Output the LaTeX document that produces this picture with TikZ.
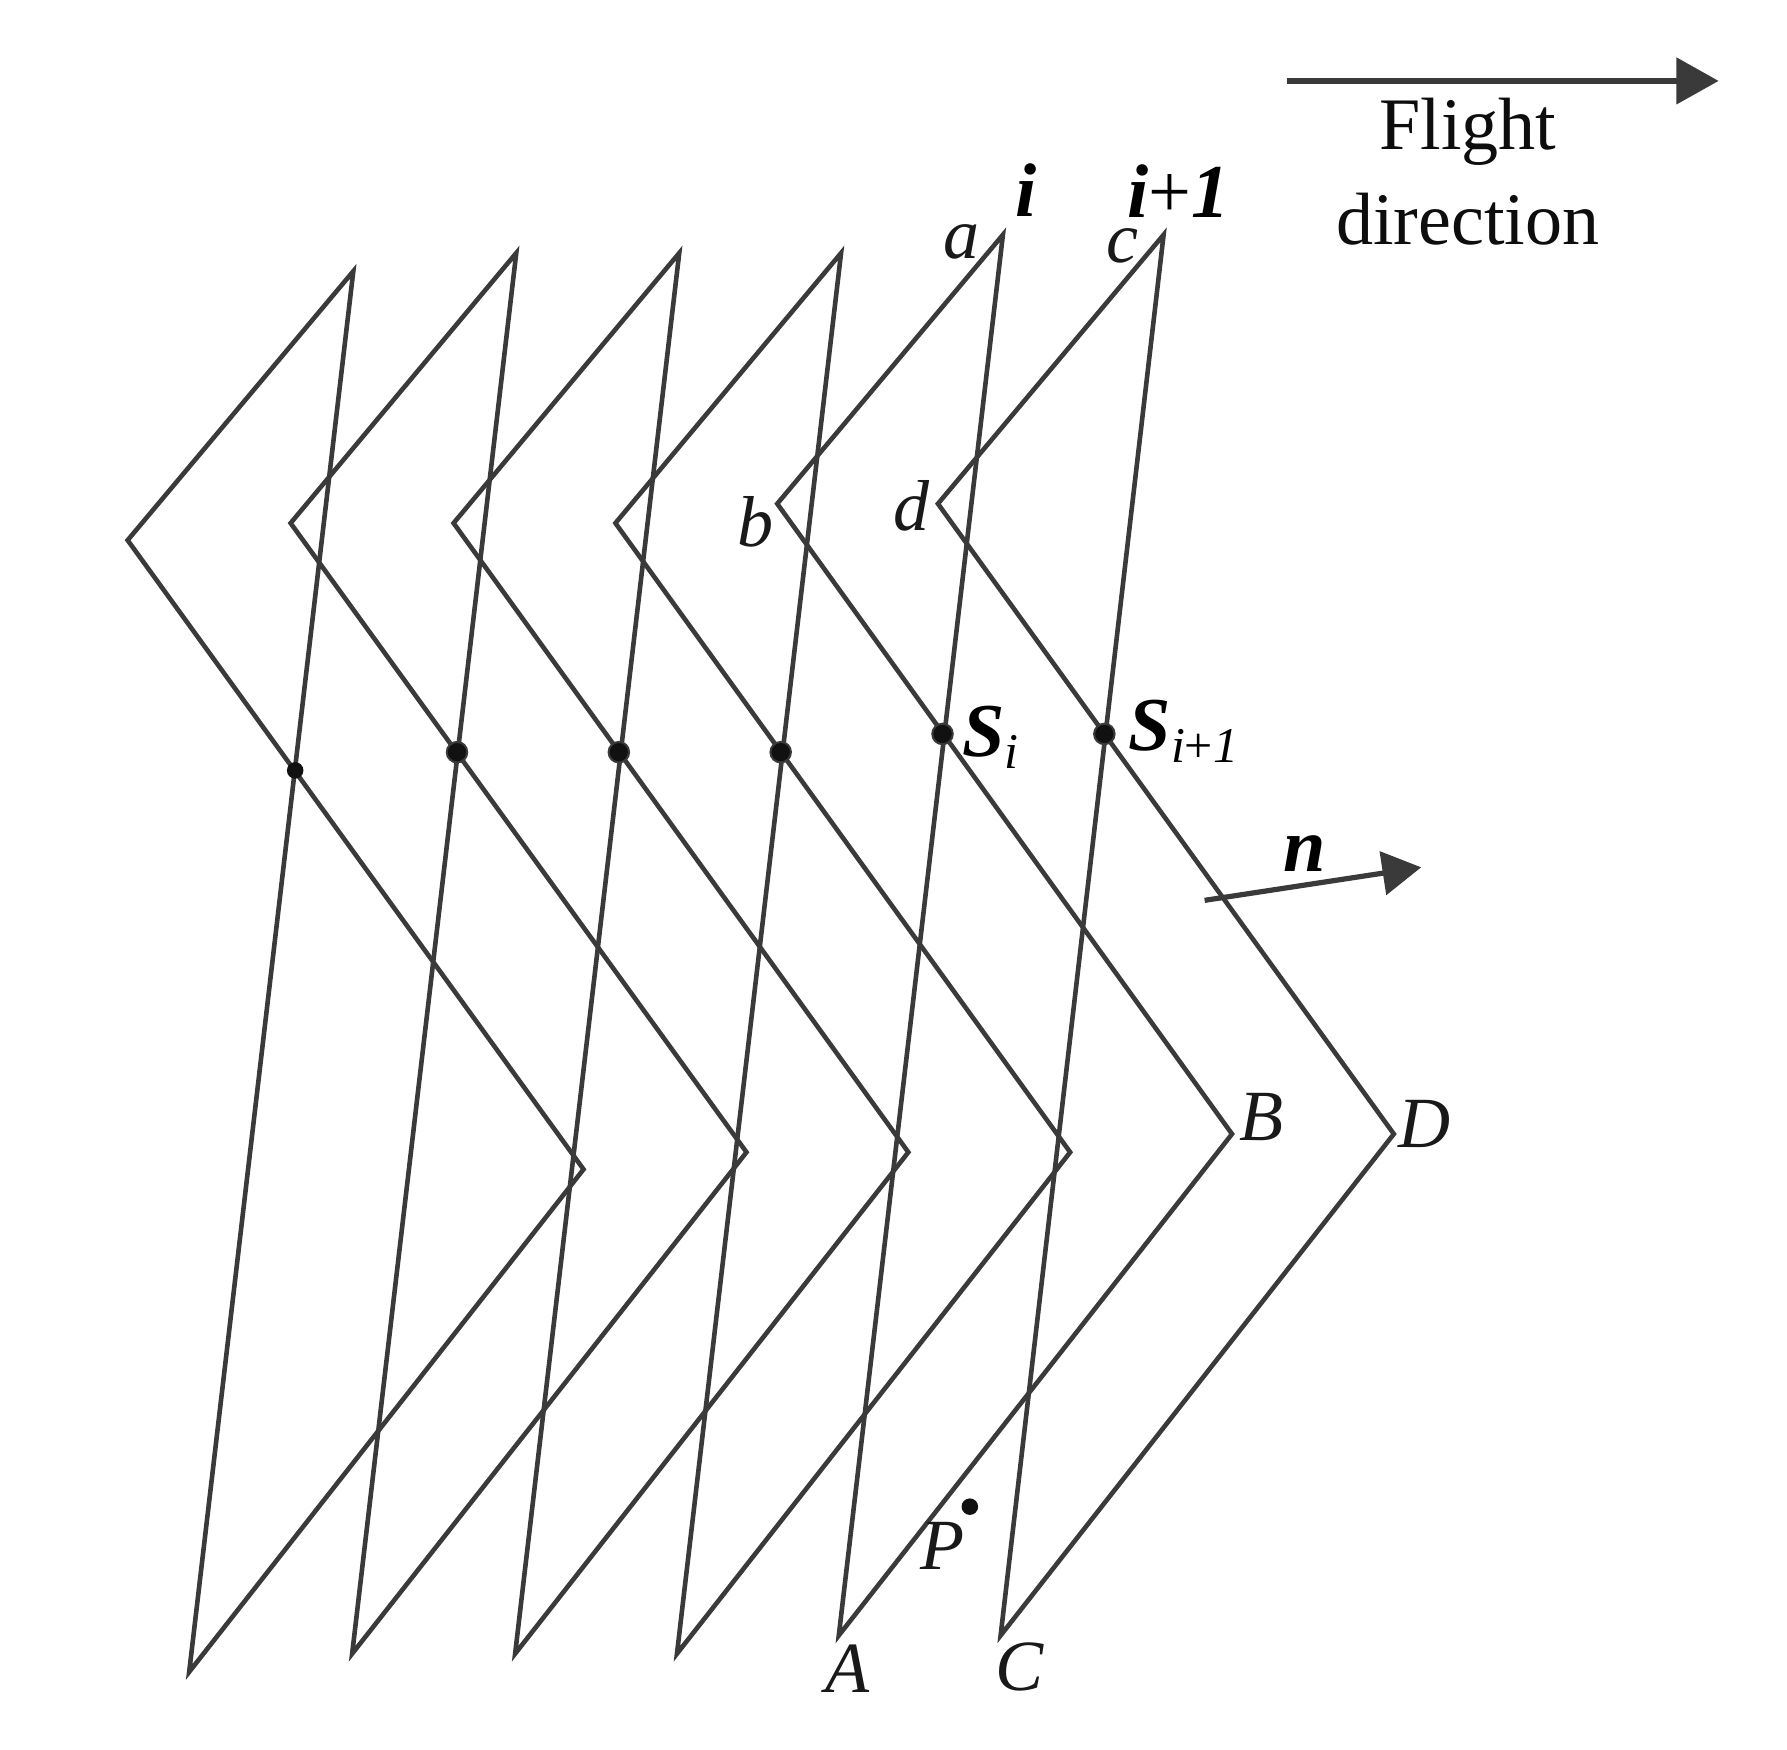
\documentclass[tikz,border=0pt]{standalone}
\usepackage{fontspec}
\setmainfont{Liberation Serif}
\usetikzlibrary{arrows.meta}
\definecolor{linegray}{HTML}{3A3A3A}
\definecolor{dotblack}{HTML}{111111}
\newcommand{\bit}[1]{\textbf{\textit{#1}}}

\begin{document}
\begin{tikzpicture}[
  x=0.02cm, y=-0.02cm,
  chevron/.style={draw=linegray, line width=2.3pt},
  arrow/.style={-{Triangle[length=0.74cm, width=0.8cm]}, draw=linegray, fill=linegray, line width=2.9pt},
  normal/.style={-{Triangle[length=0.68cm, width=0.76cm]}, draw=linegray, fill=linegray, line width=2.6pt},
  vertex/.style={font=\fontsize{36}{38}\selectfont\itshape, text=black!90, inner sep=0pt},
  caption/.style={font=\fontsize{37}{39}\selectfont, text=black!95, inner sep=0pt},
  strong/.style={font=\fontsize{38}{40}\selectfont, text=black, inner sep=0pt},
  crossing/.style={circle, fill=dotblack, draw=linegray, line width=1pt, inner sep=0pt, minimum size=0.36cm},
  smalldot/.style={circle, fill=dotblack, inner sep=0pt, minimum size=0.29cm}
]
  \useasboundingbox (0,0) rectangle (1568,1535);
  \fill[white] (0,0) rectangle (1568,1535);

  % Swaths
  \draw[chevron] (310,238) -- (112,474) -- (512,1026) -- (166,1467) -- cycle;
  \draw[chevron] (453,222) -- (255,459) -- (655,1011) -- (309,1451) -- cycle;
  \draw[chevron] (596,222) -- (398,459) -- (797,1011) -- (452,1451) -- cycle;
  \draw[chevron] (738,222) -- (540,459) -- (939,1011) -- (594,1451) -- cycle;
  \draw[chevron] (880,206) -- (682,442) -- (1081,995) -- (736,1435) -- cycle;
  \draw[chevron] (1021,206) -- (823,442) -- (1223,995) -- (878,1435) -- cycle;

  % Crossing points
  \node[smalldot] (s1) at (259,676) {};
  \node[crossing] (s2) at (401,660) {};
  \node[crossing] (s3) at (543,660) {};
  \node[crossing] (s4) at (685,660) {};
  \node[crossing] (s5) at (827,644) {};
  \node[crossing] (s6) at (969,644) {};
  \node[smalldot] (pdot) at (851,1322) {};

  % Flight direction
  \coordinate (flightstart) at (1129,71);
  \coordinate (flightend) at (1508,71);
  \draw[arrow] (flightstart) -- (flightend);
  \node[caption] (flight) at (1288,116) {Flight};
  \node[caption] (direction) at (1288,192) {direction};

  % Normal
  \coordinate (normalstart) at (1057,790);
  \coordinate (normalend) at (1247,761);
  \draw[normal] (normalstart) -- (normalend);
  \node[strong] (nlabel) at (1145,749) {\bit{n}};

  % Swath labels
  \node[strong] (ilabel) at (900,167) {\bit{i}};
  \node[strong] (iplus) at (1034,168) {\bit{i}+\bit{1}};
  \node[strong, anchor=west] (si) at (844,647) {\bit{S}\raisebox{-0.16em}{\fontsize{25}{25}\selectfont\textit{i}}};
  \node[strong, anchor=west] (siplus) at (990,642) {\bit{S}\raisebox{-0.16em}{\fontsize{25}{25}\selectfont\textit{i}+\textit{1}}};

  % Corner labels
  \node[vertex] (a) at (844,212) {a};
  \node[vertex] (c) at (985,216) {c};
  \node[vertex] (b) at (663,458) {b};
  \node[vertex] (d) at (800,444) {d};
  \node[vertex] (B) at (1107,980) {B};
  \node[vertex] (D) at (1250,986) {D};
  \node[vertex] (A) at (744,1464) {A};
  \node[vertex] (C) at (895,1463) {C};
  \node[vertex] (P) at (827,1356) {P};
\end{tikzpicture}
\end{document}
